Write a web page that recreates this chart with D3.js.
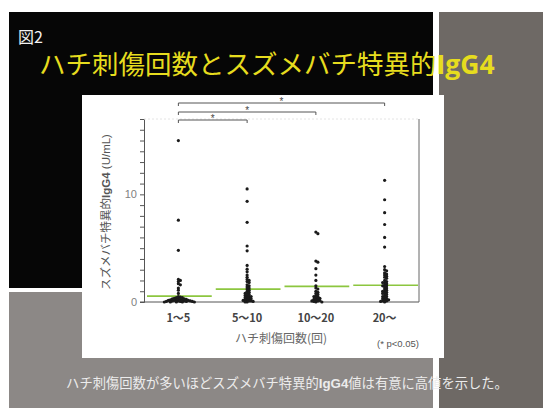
<!DOCTYPE html>
<html>
<head>
<meta charset="utf-8">
<script src="https://cdn.jsdelivr.net/npm/d3@7"></script>
<style>
  body { margin: 0; background: #fff; }
  svg { display: block; font-family: "Noto Sans CJK JP", "Noto Sans", sans-serif; }
</style>
</head>
<body>
<div id="chart"></div>
<script>
// categories = number of stings
const categories = ["1〜5", "5〜10", "10〜20", "20〜"];

// IgG4 values (U/mL), one array per group
const group1 = [15.0, 7.6, 4.8, 2.1, 2.0, 1.9, 1.7, 1.6, 1.3, 1.1, 0.8, 0.5, 0.45, 0.4, 0.4, 0.35, 0.3, 0.3, 0.3,
  0.25, 0.25, 0.2, 0.2, 0.2, 0.15, 0.15, 0.15, 0.1, 0.1, 0.1, 0.1, 0.05, 0.05, 0.05, 0.05, 0, 0, 0, 0, 0];
const group2 = [10.5, 9.35, 7.4, 5.2, 4.75, 3.4, 3.05, 2.8, 2.5, 2.3, 2.1, 2.0, 1.9, 1.8, 1.6, 1.5, 1.4, 1.3, 1.2,
  1.1, 1.0, 0.9, 0.8, 0.8, 0.7, 0.6, 0.6, 0.5, 0.5, 0.4, 0.4, 0.3, 0.3, 0.2, 0.2, 0.15, 0.1, 0.1, 0.05, 0, 0];
const group3 = [6.5, 6.35, 3.8, 3.7, 3.1, 2.5, 2.0, 1.5, 1.3, 1.2, 1.0, 0.9, 0.8, 0.7, 0.6, 0.5, 0.5, 0.4, 0.35,
  0.3, 0.25, 0.2, 0.15, 0.1, 0.1, 0.05, 0, 0];
const group4 = [11.3, 9.5, 8.3, 7.2, 6.0, 5.1, 3.3, 3.0, 2.9, 2.7, 2.6, 2.5, 2.4, 2.3, 2.2, 2.0, 1.9, 1.8, 1.8,
  1.7, 1.6, 1.5, 1.5, 1.4, 1.3, 1.2, 1.1, 1.0, 1.0, 0.9, 0.8, 0.8, 0.7, 0.6, 0.5, 0.5, 0.4, 0.3, 0.3, 0.2, 0.2,
  0.1, 0.1, 0.05, 0];

// median per group (green lines)
const medians = [0.55, 1.2, 1.45, 1.55];

// significant pairs (* p<0.05)
const comparisons = [["1〜5", "5〜10"], ["1〜5", "10〜20"], ["1〜5", "20〜"]];

const yTicks = [0, 10];

const W = 543, H = 408;
const svg = d3.select("#chart").append("svg")
  .attr("width", W)
  .attr("height", H);

// slide background panels
svg.append("rect").attr("x", 9).attr("y", 12).attr("width", 424).attr("height", 276).attr("fill", "#060606");
svg.append("rect").attr("x", 9).attr("y", 292).attr("width", 424).attr("height", 116).attr("fill", "#8c8886");
svg.append("rect").attr("x", 439).attr("y", 12).attr("width", 104).attr("height", 396).attr("fill", "#6e6965");
svg.append("rect").attr("x", 82).attr("y", 95).attr("width", 362).attr("height", 263).attr("fill", "#ffffff");

// header
svg.append("text")
  .attr("x", 18).attr("y", 43)
  .attr("fill", "#f2f2f2")
  .style("font-size", "16px")
  .text("図2");

const title = svg.append("text")
  .attr("x", 39).attr("y", 74)
  .attr("fill", "#e6dc1e")
  .style("font-size", "26.5px");
title.append("tspan").text("ハチ刺傷回数とスズメバチ特異的");
title.append("tspan").style("font-weight", "bold").style("font-family", "'Open Sans', sans-serif").text("IgG4");

// plot
const x = d3.scaleBand()
  .domain(categories)
  .range([144, 419]);

const y = d3.scaleLinear()
  .domain([0, 17])
  .range([302, 119]);

const axisColor = "#555";

// y axis with unit ticks, labels at 0 and 10
const yAxis = svg.append("g")
  .attr("transform", `translate(${x.range()[0]},0)`)
  .call(d3.axisLeft(y).ticks(17).tickSize(4).tickFormat(d => yTicks.includes(d) ? d : ""));
yAxis.select(".domain").attr("stroke", axisColor);
yAxis.selectAll(".tick line").attr("stroke", axisColor);
yAxis.selectAll(".tick text")
  .attr("fill", "#808080")
  .style("font-size", "11px")
  .style("font-family", "'Liberation Sans', sans-serif");

// x baseline, right border, faint top border
svg.append("line")
  .attr("x1", x.range()[0] - 4).attr("x2", x.range()[1])
  .attr("y1", y(0)).attr("y2", y(0))
  .attr("stroke", axisColor);
svg.append("line")
  .attr("x1", x.range()[1]).attr("x2", x.range()[1])
  .attr("y1", y(17)).attr("y2", y(0))
  .attr("stroke", "#666");
svg.append("line")
  .attr("x1", x.range()[0]).attr("x2", x.range()[1])
  .attr("y1", y(17)).attr("y2", y(17))
  .attr("stroke", "#e4e4e4")
  .attr("stroke-dasharray", "2,2");

// x tick labels
svg.append("g")
  .selectAll("text")
  .data(categories)
  .join("text")
  .attr("x", d => x(d) + x.bandwidth() / 2)
  .attr("y", 322)
  .attr("text-anchor", "middle")
  .attr("fill", "#444")
  .style("font-size", "11px")
  .style("font-weight", "bold")
  .text(d => d);

// axis titles
svg.append("text")
  .attr("x", 281).attr("y", 343)
  .attr("text-anchor", "middle")
  .attr("fill", "#666")
  .style("font-size", "12px")
  .text("ハチ刺傷回数(回)");

svg.append("text")
  .attr("x", 377).attr("y", 347)
  .attr("fill", "#555")
  .style("font-size", "9.5px")
  .style("font-family", "'Liberation Sans', sans-serif")
  .text("(* p<0.05)");

const yTitle = svg.append("text")
  .attr("transform", "translate(110,212) rotate(-90)")
  .attr("text-anchor", "middle")
  .attr("fill", "#555")
  .style("font-size", "11.5px");
yTitle.append("tspan").text("スズメバチ特異的");
yTitle.append("tspan").style("font-weight", "bold").style("font-family", "'Liberation Sans', sans-serif").text("IgG4");
yTitle.append("tspan").style("font-family", "'Liberation Sans', sans-serif").text(" (U/mL)");

// median lines
svg.append("g")
  .selectAll("line")
  .data(medians)
  .join("line")
  .attr("x1", (d, i) => x(categories[i]) + 3)
  .attr("x2", (d, i) => x(categories[i]) + x.bandwidth() - 1)
  .attr("y1", d => y(d))
  .attr("y2", d => y(d))
  .attr("stroke", "#8cc63f")
  .attr("stroke-width", 1.6);

// compact swarm: dots may overlap a little, like the original blobs
const r = 1.6;
const minDist = 2.0;
function swarm(values, cx) {
  const placed = [];
  const sorted = values.slice().sort((a, b) => b - a);
  sorted.forEach(v => {
    const py = y(v);
    for (let k = 0; k < 40; k++) {
      const off = (k % 2 ? 1 : -1) * Math.ceil(k / 2) * minDist;
      const px = cx + off;
      const hit = placed.some(p => (p.x - px) ** 2 + (p.y - py) ** 2 < minDist ** 2);
      if (!hit) { placed.push({ x: px, y: py }); break; }
    }
  });
  return placed;
}

const groups = [group1, group2, group3, group4];
groups.forEach((vals, i) => {
  const cx = x(categories[i]) + x.bandwidth() / 2;
  svg.append("g")
    .selectAll("circle")
    .data(swarm(vals, cx))
    .join("circle")
    .attr("cx", d => d.x)
    .attr("cy", d => d.y)
    .attr("r", r)
    .attr("fill", "#1a1a1a");
});

// significance brackets
const bracketY = [120, 112, 103];
comparisons.forEach((c, i) => {
  const x1 = x(c[0]) + x.bandwidth() / 2;
  const x2 = x(c[1]) + x.bandwidth() / 2;
  const by = bracketY[i];
  svg.append("path")
    .attr("d", `M${x1},${by + 3}V${by}H${x2}V${by + 3}`)
    .attr("fill", "none")
    .attr("stroke", "#555")
    .attr("stroke-width", 1);
  svg.append("text")
    .attr("x", (x1 + x2) / 2)
    .attr("y", by + 2)
    .attr("text-anchor", "middle")
    .attr("fill", "#444")
    .style("font-size", "10px")
    .style("font-family", "'Liberation Sans', sans-serif")
    .text("*");
});

// caption
const cap = svg.append("text")
  .attr("x", 287).attr("y", 388)
  .attr("text-anchor", "middle")
  .attr("fill", "#ececec")
  .style("font-size", "13.3px");
cap.append("tspan").text("ハチ刺傷回数が多いほどスズメバチ特異的");
cap.append("tspan").style("font-weight", "bold").style("font-family", "'Liberation Sans', sans-serif").text("IgG4");
cap.append("tspan").text("値は有意に高値を示した。");
</script>
</body>
</html>
